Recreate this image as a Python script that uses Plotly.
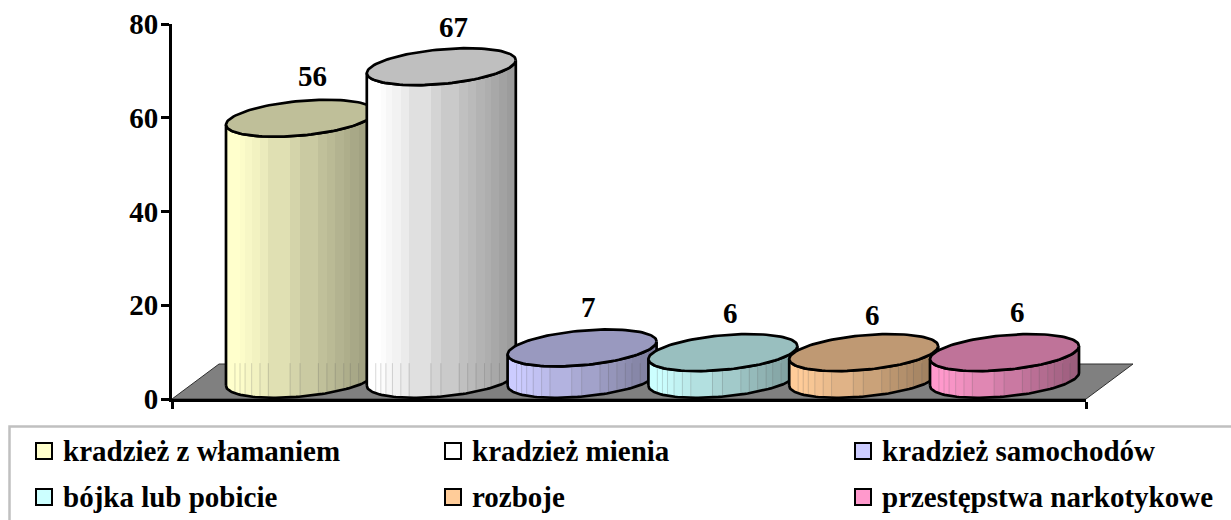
import numpy as np
import plotly.graph_objects as go

CATEGORIES = ["kradzież z włamaniem", "kradzież mienia", "kradzież samochodów",
              "bójka lub pobicie", "rozboje", "przestępstwa narkotykowe"]
VALUES = [56, 67, 7, 6, 6, 6]
Y_TICKS = [0, 20, 40, 60, 80]
BASE_COLORS = [(255, 255, 204), (255, 255, 255), (204, 204, 255),
               (204, 255, 255), (255, 204, 153), (255, 153, 204)]

W, H = 1231, 520
L, R, T, B = 172, 1086, 24, 399
PX_X = 140.8            # px per category
PX_Y = (B - T) / 80     # px per value unit
X0_PX = 300.5           # px of first cylinder centre
FONT = "Liberation Serif"

x_range = [(L - X0_PX) / PX_X, (R - X0_PX) / PX_X]
A = 74.5 / PX_X
UY = 6.5 / PX_Y
K = 17.3 / PX_Y
BASE_C = 4.2
INSET = 0.3
BACK_WALL = 37 / PX_Y
STRIPS = [0.06, 0.094, 0.128, 0.172, 0.228, 0.284, 0.43, 0.497, 0.62, 0.677, 0.733, 0.79, 0.834, 0.89, 0.94]
LABEL_DX = [12, 12.5, 6.5, 7.5, 8.5, 12.5]
LABEL_DY = [42, 40, 41, 40, 38, 41]
LEGEND_COLS = [36, 445, 855]
LEGEND_ROWS = [451, 497]
OUTLINE = 2.7


def hexc(c, f=1.0):
    return "rgb(%d,%d,%d)" % tuple(round(v * f) for v in c)


def shade(f):
    return 1.0 if f <= 0.08 else 1.0 - 0.4 * (f - 0.08) / 0.92


def arc(cx, cy, t):
    return cx + A * np.cos(t), cy + UY * np.cos(t) + K * np.sin(t)


def px(x):
    return (x - L) / (R - L)


def py(y):
    return (B - y) / (B - T)


fig = go.Figure()
base_common = dict(mode="lines", hoverinfo="skip", showlegend=False, cliponaxis=False)

for i, (val, col) in enumerate(zip(VALUES, BASE_COLORS)):
    top = BASE_C + val - INSET
    lower = np.linspace(np.pi, 2 * np.pi, 80)
    bx, by = arc(i, BASE_C, lower)
    tx, ty = arc(i, top, lower[::-1])
    xs = np.concatenate([bx, tx, bx[:1]])
    ys = np.concatenate([by, ty, by[:1]])
    edges = [0.0] + STRIPS + [1.0]
    scale = []
    for a, b in zip(edges[:-1], edges[1:]):
        c = hexc(col, shade((a + b) / 2))
        scale += [[a, c], [b, c]]
    fig.add_trace(go.Scatter(
        x=xs, y=ys, fill="toself",
        fillgradient=dict(type="horizontal", colorscale=scale),
        line=dict(color="black", width=OUTLINE), name=CATEGORIES[i], **base_common))
    sx, sy = [], []
    for f in STRIPS:
        c = 2 * f - 1
        s = -np.sqrt(1 - c * c)
        y_low = BASE_C + UY * c + K * s
        y_high = min(BACK_WALL, top + UY * c + K * s)
        sx += [i + A * c, i + A * c, None]
        sy += [y_low + 0.25, y_high - 0.25, None]
    fig.add_trace(go.Scatter(x=sx, y=sy, line=dict(color="rgba(90,90,90,0.3)", width=0.8), **base_common))
    full = np.linspace(0, 2 * np.pi, 120)
    cx, cy = arc(i, top, full)
    fig.add_trace(go.Scatter(x=cx, y=cy, fill="toself", fillcolor=hexc(col, 0.75),
                             line=dict(color="black", width=OUTLINE), **base_common))

annotations = []
for i, val in enumerate(VALUES):
    annotations.append(dict(x=i, y=BASE_C + val - INSET, text=str(val), showarrow=False,
                            xshift=LABEL_DX[i], yshift=LABEL_DY[i], xanchor="center", yanchor="middle",
                            font=dict(family=FONT, size=29, color="black", weight=700)))

shapes = [
    dict(type="path", xref="paper", yref="paper", layer="below",
         path=f"M {px(172)} {py(399)} L {px(219)} {py(364)} L {px(1133)} {py(364)} L {px(1086)} {py(399)} Z",
         fillcolor="#808080", line=dict(color="#303030", width=1)),
    dict(type="path", xref="paper", yref="paper", layer="below",
         path=f"M {px(9.5)} {py(521)} L {px(9.5)} {py(426.5)} L {px(1232)} {py(426.5)}",
         line=dict(color="#C0C0C0", width=2.5)),
]
for idx, name in enumerate(CATEGORIES):
    lx = LEGEND_COLS[idx % 3]
    ly = LEGEND_ROWS[idx // 3]
    shapes.append(dict(type="rect", xref="paper", yref="paper",
                       x0=px(lx), x1=px(lx + 16), y0=py(ly - 8), y1=py(ly + 8),
                       fillcolor=hexc(BASE_COLORS[idx]), line=dict(color="black", width=2)))
    annotations.append(dict(xref="paper", yref="paper", x=px(lx + 25), y=py(ly), text=name, showarrow=False,
                            xanchor="left", yanchor="middle",
                            font=dict(family=FONT, size=29, color="black", weight=700)))

fig.update_layout(
    width=W, height=H, margin=dict(l=L, r=W - R, t=T, b=H - B, autoexpand=False),
    paper_bgcolor="white", plot_bgcolor="white", showlegend=False,
    annotations=annotations, shapes=shapes,
    xaxis=dict(range=x_range, tickmode="array", tickvals=x_range, ticktext=["", ""],
               ticks="outside", ticklen=7, tickwidth=2.5, tickcolor="black",
               showgrid=False, zeroline=False, showline=True, linecolor="black", linewidth=3),
    yaxis=dict(range=[0, 80], tickmode="array", tickvals=Y_TICKS, ticks="outside", ticklen=8, tickwidth=2.5,
               tickcolor="black", showgrid=False, zeroline=False, showline=True, linecolor="black", linewidth=3,
               ticklabelstandoff=-3,
               tickfont=dict(family=FONT, size=29, color="black", weight=700)),
)
fig.write_html("out.html", post_script="document.body.style.margin='0';", config={"displayModeBar": False})
